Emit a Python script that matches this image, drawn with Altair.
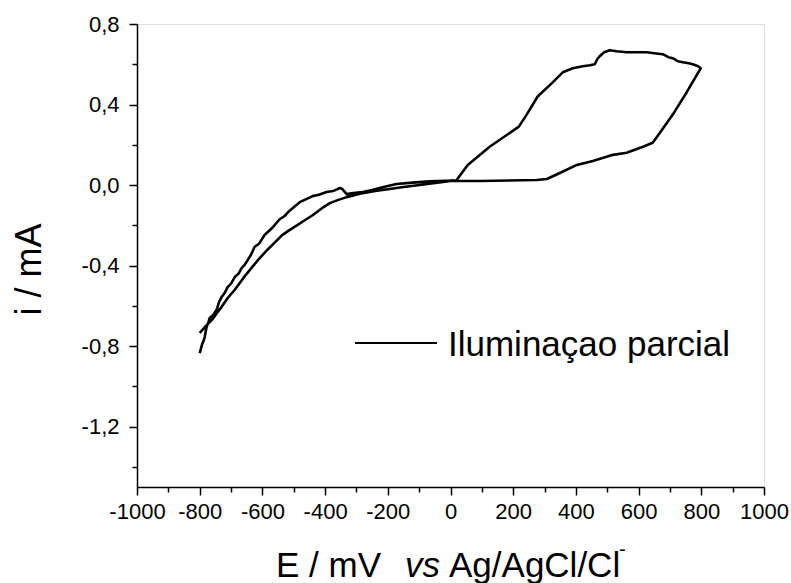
import altair as alt
import pandas as pd

# Cyclic voltammogram, one continuous sweep (path order kept with "step")
# -800 -> 0 (noisy branch at negative potentials)
e_fwd_neg = [-800, -792, -788, -784, -780, -778, -772, -768, -757, -746, -738, -730, -720,
             -711, -700, -688, -676, -666, -656, -647, -636, -625, -610, -593, -570, -545,
             -530, -515, -500, -481, -460, -440, -420, -395, -375, -353, -345, -331, -310,
             -280, -250, -226, -200, -172, -121, -67, 10]
i_fwd_neg = [-0.835, -0.79, -0.775, -0.755, -0.72, -0.705, -0.68, -0.66, -0.645, -0.62,
             -0.58, -0.556, -0.535, -0.507, -0.49, -0.457, -0.44, -0.412, -0.395, -0.373,
             -0.345, -0.308, -0.29, -0.248, -0.215, -0.17, -0.155, -0.13, -0.11, -0.085,
             -0.07, -0.055, -0.048, -0.035, -0.03, -0.015, -0.02, -0.045, -0.04, -0.035,
             -0.025, -0.015, -0.005, 0.005, 0.012, 0.018, 0.022]
# 0 -> +800 (anodic branch)
e_fwd_pos = [17, 55, 125, 218, 243, 278, 326, 358, 390, 422, 445, 460, 468, 476, 490, 508,
             530, 562, 600, 626, 650, 677, 695, 709, 725, 741, 760, 773, 790, 798]
i_fwd_pos = [0.02, 0.10, 0.19, 0.29, 0.35, 0.44, 0.51, 0.56, 0.58, 0.59, 0.595, 0.60, 0.625,
             0.64, 0.66, 0.67, 0.665, 0.66, 0.66, 0.66, 0.655, 0.65, 0.635, 0.63, 0.615,
             0.61, 0.605, 0.60, 0.59, 0.58]
# +800 -> 0 (return branch)
e_rev_pos = [753, 709, 668, 645, 614, 562, 518, 498, 454, 403, 349, 307, 275, 93, 17]
i_rev_pos = [0.46, 0.35, 0.26, 0.21, 0.19, 0.16, 0.15, 0.14, 0.12, 0.10, 0.06, 0.03,
             0.025, 0.02, 0.02]
# 0 -> -800 (smooth cathodic branch)
e_rev_neg = [7, -98, -150, -194, -240, -280, -331, -360, -385, -410, -440, -465, -490, -515,
             -538, -560, -583, -610, -634, -660, -688, -710, -730, -745, -761, -780, -800]
i_rev_neg = [0.022, 0.0, -0.01, -0.02, -0.03, -0.04, -0.06, -0.075, -0.09, -0.115, -0.15,
             -0.175, -0.2, -0.225, -0.25, -0.285, -0.32, -0.365, -0.41, -0.46, -0.52,
             -0.56, -0.605, -0.635, -0.67, -0.70, -0.735]

x_ticks = list(range(-1000, 1001, 100))
y_ticks = [-1.4, -1.2, -1.0, -0.8, -0.6, -0.4, -0.2, 0.0, 0.2, 0.4, 0.6, 0.8]

legend_label = "Iluminaçao parcial"
FONT = "Liberation Sans"

E = e_fwd_neg + e_fwd_pos + e_rev_pos + e_rev_neg
I = i_fwd_neg + i_fwd_pos + i_rev_pos + i_rev_neg
df = pd.DataFrame({"E": E, "I": I, "step": range(len(E))})

x_axis = alt.Axis(
    values=x_ticks,
    labelExpr="datum.value % 200 == 0 ? toString(datum.value) : ''",
    tickSize={"condition": {"test": "datum.value % 200 != 0", "value": 5}, "value": 8},
    labelPadding=6,
    labelFontSize=22,
    labelFont=FONT,
    labelColor="black",
    labelFlush=False,
    labelOverlap=False,
    domainColor="black",
    domainWidth=1.5,
    tickColor="black",
    tickWidth=1.5,
    grid=False,
    title=None,
)

y_axis = alt.Axis(
    values=y_ticks,
    labelExpr="abs(round(datum.value*10)) % 4 == 0 ? (datum.value < 0 ? '-' : '') + "
              "replace(format(abs(datum.value), '.1f'), '.', ',') : ''",
    tickSize={"condition": {"test": "abs(round(datum.value*10)) % 4 != 0", "value": 5},
              "value": 8},
    labelPadding=10,
    labelFontSize=22,
    labelFont=FONT,
    labelColor="black",
    labelFlush=False,
    labelOverlap=False,
    domainColor="black",
    domainWidth=1.5,
    tickColor="black",
    tickWidth=1.5,
    grid=False,
    title="i / mA",
    titleFont=FONT,
    titleFontSize=36,
    titleFontWeight="normal",
    titleColor="black",
    titleX=-97,
    titleY=245,
    titleAlign="center",
    titleBaseline="alphabetic",
)

curve = alt.Chart(df).mark_line(color="black", strokeWidth=2.6, strokeJoin="round").encode(
    x=alt.X("E:Q", scale=alt.Scale(domain=[-1000, 1000], nice=False, zero=False), axis=x_axis),
    y=alt.Y("I:Q", scale=alt.Scale(domain=[-1.5, 0.8], nice=False, zero=False), axis=y_axis),
    order="step:Q",
)

# legend entry
leg_df = pd.DataFrame({"label": [legend_label]})
leg_line = alt.Chart(leg_df).mark_rule(color="black", strokeWidth=2).encode(
    x=alt.value(218), x2=alt.value(300), y=alt.value(319)
)
leg_text = alt.Chart(leg_df).mark_text(
    align="left", baseline="alphabetic", font=FONT, fontSize=35, color="black"
).encode(text="label:N", x=alt.value(311), y=alt.value(332))

# x-axis title with italic "vs" and superscript charge
def title_piece(txt, x, y, size=35, style="normal"):
    return alt.Chart(pd.DataFrame({"t": [txt]})).mark_text(
        align="left", baseline="alphabetic", font=FONT, fontSize=size,
        fontStyle=style, color="black"
    ).encode(text="t:N", x=alt.value(x), y=alt.value(y))

xt1 = title_piece("E / mV", 139, 553)
xt2 = title_piece("vs", 268, 553, style="italic")
xt3 = title_piece("Ag/AgCl/Cl", 312, 553)
xt4 = title_piece("-", 482, 532, size=20)

chart = alt.layer(curve, leg_line, leg_text, xt1, xt2, xt3, xt4).properties(
    width=627,
    height=463,
    autosize=alt.AutoSizeParams(type="none"),
    padding={"left": 137, "top": 24, "right": 27, "bottom": 96},
).configure_view(stroke=None).configure(background="white")

chart.save("out.html", embed_options={"renderer": "svg", "actions": False})
